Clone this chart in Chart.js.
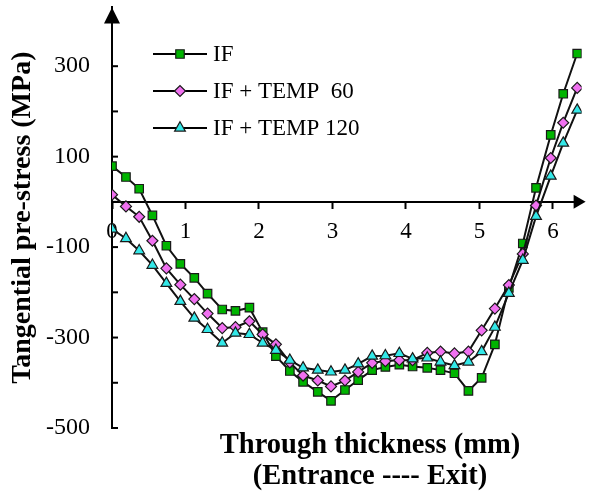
<!DOCTYPE html>
<html>
<head>
<meta charset="utf-8">
<script src="https://cdn.jsdelivr.net/npm/chart.js@4.4.0/dist/chart.umd.min.js"></script>
<style>
  html, body { margin: 0; padding: 0; background: #fff; }
  #wrap { width: 589px; height: 495px; }
</style>
</head>
<body>
<div id="wrap"><canvas id="chart" width="589" height="495"></canvas></div>
<script>
// through thickness position (mm)
const thickness = [0, 0.19, 0.37, 0.55, 0.74, 0.93, 1.12, 1.30, 1.50, 1.68, 1.87, 2.05,
    2.23, 2.42, 2.60, 2.80, 2.98, 3.17, 3.35, 3.54, 3.72, 3.91, 4.09, 4.29, 4.47, 4.66,
    4.85, 5.03, 5.21, 5.40, 5.59, 5.77, 5.97, 6.14, 6.33];

// tangential pre-stress (MPa)
const stressIF = [79, 55, 29, -30, -97, -137, -168, -203, -238, -241, -234, -288,
    -341, -374, -398, -420, -440, -416, -394, -372, -365, -360, -364, -367, -372, -379,
    -418, -389, -315, -190, -92, 31, 148, 239, 328];
const stressTemp60 = [16, -10, -33, -86, -147, -183, -215, -247, -279, -277, -264, -293,
    -315, -355, -384, -395, -408, -395, -376, -356, -352, -350, -350, -334, -331, -335,
    -331, -284, -236, -184, -115, -8, 97, 175, 252];
const stressTemp120 = [-60, -81, -108, -140, -180, -220, -257, -282, -312, -290, -293, -312,
    -328, -350, -367, -372, -376, -372, -358, -341, -340, -335, -347, -345, -354, -362,
    -354, -331, -277, -202, -129, -32, 57, 130, 203];

const seriesNames = ['IF', 'IF + TEMP  60', 'IF + TEMP 120'];
const yTickLabels = [300, 100, -100, -300, -500];
const yTickMarks = [300, 200, 100, 0, -100, -200, -300, -400, -500];
const xTitle = ['Through thickness (mm)', '(Entrance ---- Exit)'];
const yTitle = 'Tangential pre-stress (MPa)';

const serif = "'Liberation Serif', 'DejaVu Serif', serif";

function pairs(values) {
    return thickness.map((x, i) => ({ x, y: values[i] }));
}

// inward y ticks, arrow heads, legend and x title
const axisDecor = {
    id: 'axisDecor',
    afterDraw(chart) {
        const ctx = chart.ctx;
        const xs = chart.scales.x;
        const ys = chart.scales.y;
        const x0 = xs.getPixelForValue(0);
        const y0 = ys.getPixelForValue(0);
        ctx.save();
        ctx.strokeStyle = '#000';
        ctx.fillStyle = '#000';
        ctx.lineWidth = 2;
        yTickMarks.forEach(v => {
            const py = ys.getPixelForValue(v);
            ctx.beginPath();
            ctx.moveTo(x0, py);
            ctx.lineTo(x0 + 6, py);
            ctx.stroke();
        });

        // arrow on top of y axis
        const top = chart.chartArea.top;
        ctx.beginPath();
        ctx.moveTo(x0, top);
        ctx.lineTo(x0 - 8, top + 16);
        ctx.lineTo(x0 + 8, top + 16);
        ctx.closePath();
        ctx.fill();

        // arrow at the end of x axis
        const right = chart.chartArea.right + 4;
        ctx.beginPath();
        ctx.moveTo(right, y0);
        ctx.lineTo(right - 12, y0 - 7);
        ctx.lineTo(right - 12, y0 + 7);
        ctx.closePath();
        ctx.fill();

        // legend
        chart.data.datasets.forEach((ds, i) => {
            const ly = 54 + i * 37;
            ctx.strokeStyle = '#000';
            ctx.lineWidth = 2;
            ctx.beginPath();
            ctx.moveTo(153, ly);
            ctx.lineTo(207, ly);
            ctx.stroke();
            ctx.fillStyle = ds.pointBackgroundColor;
            ctx.strokeStyle = ds.pointBorderColor;
            ctx.lineWidth = ds.pointBorderWidth;
            Chart.helpers.drawPoint(ctx, {
                pointStyle: ds.pointStyle,
                radius: ds.pointRadius,
                borderWidth: ds.pointBorderWidth,
                rotation: 0
            }, 180, ly);
            ctx.fillStyle = '#000';
            ctx.font = `23px ${serif}`;
            ctx.textAlign = 'left';
            ctx.textBaseline = 'middle';
            ctx.fillText(ds.label, 213, ly + 1);
        });

        // x axis title
        ctx.fillStyle = '#000';
        ctx.font = `bold 28.5px ${serif}`;
        ctx.textAlign = 'center';
        ctx.textBaseline = 'middle';
        ctx.fillText(xTitle[0], 370, 446);
        ctx.fillText(xTitle[1], 370, 477);
        ctx.restore();
    }
};

const markerStyles = [
    { pointStyle: 'rect', pointRadius: 6, color: '#00b400' },
    { pointStyle: 'rectRot', pointRadius: 5.5, color: '#f070f0' },
    { pointStyle: 'triangle', pointRadius: 6.2, color: '#33e8e8' }
];
const seriesData = [stressIF, stressTemp60, stressTemp120];

new Chart(document.getElementById('chart'), {
    type: 'line',
    data: {
        datasets: seriesData.map((values, i) => ({
            label: seriesNames[i],
            data: pairs(values),
            borderColor: '#111',
            borderWidth: 2,
            pointStyle: markerStyles[i].pointStyle,
            pointRadius: markerStyles[i].pointRadius,
            pointBackgroundColor: markerStyles[i].color,
            pointBorderColor: '#1a1a1a',
            pointBorderWidth: 1.2,
            order: 3 - i,
            tension: 0
        }))
    },
    options: {
        responsive: false,
        animation: false,
        layout: { padding: { top: 5, right: 0, bottom: 67, left: 0 } },
        plugins: {
            legend: { display: false },
            tooltip: { enabled: false }
        },
        scales: {
            x: {
                type: 'linear',
                min: 0,
                max: 6.39,
                position: { y: 0 },
                afterFit(scale) {
                    scale.height = 0;
                    scale.paddingLeft = 0;
                    scale.paddingRight = 0;
                },
                ticks: {
                    stepSize: 1,
                    includeBounds: false,
                    padding: 10,
                    color: '#000',
                    font: { family: serif, size: 23 },
                    callback: v => (Number.isInteger(v) ? String(v) : '')
                },
                grid: {
                    display: true,
                    drawOnChartArea: false,
                    drawTicks: true,
                    tickLength: 6,
                    tickWidth: 2,
                    tickColor: '#000'
                },
                border: { display: true, color: '#000', width: 2 }
            },
            y: {
                type: 'linear',
                min: -500,
                max: 430,
                afterFit(scale) {
                    scale.width = 112;
                    scale.paddingTop = 0;
                    scale.paddingBottom = 0;
                },
                ticks: {
                    stepSize: 100,
                    includeBounds: false,
                    padding: 14,
                    color: '#000',
                    font: { family: serif, size: 24 },
                    callback: v => (yTickLabels.includes(v) ? String(v) : '')
                },
                grid: { display: false, drawTicks: true, tickLength: 8 },
                border: { display: true, color: '#000', width: 2 },
                title: {
                    display: true,
                    text: yTitle,
                    color: '#000',
                    font: { family: serif, size: 28, weight: 'bold' },
                    padding: { top: 6, bottom: 0 }
                }
            }
        }
    },
    plugins: [axisDecor]
});
</script>
</body>
</html>
